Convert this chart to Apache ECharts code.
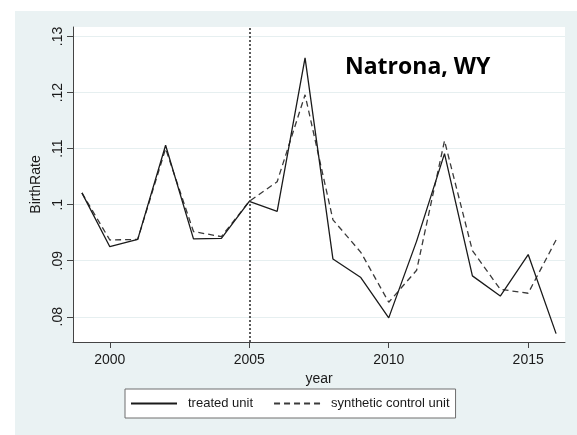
<!DOCTYPE html>
<html>
<head>
<meta charset="utf-8">
<script src="https://cdn.jsdelivr.net/npm/echarts@6/dist/echarts.min.js"></script>
<style>
  html, body { margin: 0; padding: 0; background: #ffffff; }
  body { width: 577px; height: 435px; position: relative; overflow: hidden; }
  #chart { position: absolute; left: 15px; top: 11px; width: 562px; height: 424px; }
</style>
</head>
<body>
<div id="chart"></div>
<script>
// Birth rate, Natrona County WY, versus its synthetic control
const years = [1999, 2000, 2001, 2002, 2003, 2004, 2005, 2006, 2007, 2008,
               2009, 2010, 2011, 2012, 2013, 2014, 2015, 2016];
const treatedUnit = [0.1021, 0.0925, 0.0938, 0.1106, 0.0939, 0.0940, 0.1006, 0.0988, 0.1262, 0.0903,
                     0.0870, 0.0798, 0.0935, 0.1091, 0.0873, 0.0837, 0.0911, 0.0770];
const syntheticUnit = [0.1021, 0.0937, 0.0938, 0.1100, 0.0952, 0.0943, 0.1006, 0.1041, 0.1196, 0.0973,
                       0.0915, 0.0826, 0.0883, 0.1114, 0.0918, 0.0849, 0.0842, 0.0937];
const xTicks = [2000, 2005, 2010, 2015];
const yTicks = [0.08, 0.09, 0.10, 0.11, 0.12, 0.13];
const treatmentYear = 2005;
const seriesNames = ['treated unit', 'synthetic control unit'];
const titleText = 'Natrona, WY';

const pair = (xs, ys) => xs.map((x, i) => [x, ys[i]]);
const fmtRate = v => String(+v.toFixed(2)).replace(/^0/, '');

const font = '"Liberation Sans", Arial, sans-serif';
const chart = echarts.init(document.getElementById('chart'), null, { renderer: 'canvas' });

chart.setOption({
  backgroundColor: '#eaf2f3',
  animation: false,
  title: {
    text: titleText,
    left: 325,
    top: 40,
    textStyle: {
      fontFamily: '"Open Sans", sans-serif',
      fontWeight: 'bold',
      fontSize: 23,
      color: '#000'
    }
  },
  grid: {
    left: 58, top: 16, right: 12, bottom: 93,
    show: true, backgroundColor: '#ffffff', borderWidth: 0
  },
  legend: {
    data: seriesNames,
    left: 110,
    top: 378,
    orient: 'horizontal',
    itemWidth: 46,
    itemHeight: 14,
    itemGap: 20,
    padding: [8, 6, 8, 5],
    backgroundColor: '#ffffff',
    borderColor: '#6e6e6e',
    borderWidth: 1,
    borderRadius: 0,
    // line samples only, no marker dot
    itemStyle: { opacity: 0 },
    textStyle: { fontFamily: font, fontSize: 13, color: '#1a1a1a', padding: [0, 0, 0, 6] }
  },
  xAxis: {
    type: 'value',
    min: 1998.68,
    max: 2016.32,
    name: 'year',
    nameLocation: 'middle',
    nameGap: 18,
    nameTextStyle: { fontFamily: font, fontSize: 14, color: '#1a1a1a' },
    axisLine: { show: true, lineStyle: { color: '#444', width: 1 } },
    axisTick: { show: true, length: 6, customValues: xTicks, lineStyle: { color: '#444' } },
    axisLabel: {
      customValues: xTicks,
      margin: 11,
      fontFamily: font, fontSize: 14, color: '#1a1a1a',
      formatter: v => String(v)
    },
    splitLine: { show: false }
  },
  yAxis: {
    type: 'value',
    min: 0.0755,
    max: 0.1317,
    name: 'BirthRate',
    nameLocation: 'middle',
    nameGap: 22,
    nameTextStyle: { fontFamily: font, fontSize: 14, color: '#1a1a1a' },
    axisLine: { show: true, lineStyle: { color: '#444', width: 1 } },
    axisTick: { show: true, length: 6, customValues: yTicks, lineStyle: { color: '#444' } },
    axisLabel: {
      customValues: yTicks,
      rotate: 90,
      margin: 8,
      fontFamily: font, fontSize: 14, color: '#1a1a1a',
      formatter: fmtRate
    },
    splitLine: { show: true, lineStyle: { color: '#e6eff0', width: 1 } }
  },
  series: [
    {
      name: seriesNames[0],
      type: 'line',
      data: pair(years, treatedUnit),
      symbol: 'none',
      lineStyle: { color: '#1a1a1a', width: 1.3, type: 'solid' },
      itemStyle: { color: '#1a1a1a' },
      z: 3,
      markLine: {
        silent: true,
        symbol: ['none', 'none'],
        label: { show: false },
        lineStyle: { color: '#333', width: 1.6, type: [2, 2] },
        data: [{ xAxis: treatmentYear }]
      }
    },
    {
      name: seriesNames[1],
      type: 'line',
      data: pair(years, syntheticUnit),
      symbol: 'none',
      lineStyle: { color: '#3a3a3a', width: 1.3, type: [6, 4] },
      itemStyle: { color: '#3a3a3a' },
      z: 2
    }
  ]
});
</script>
</body>
</html>
